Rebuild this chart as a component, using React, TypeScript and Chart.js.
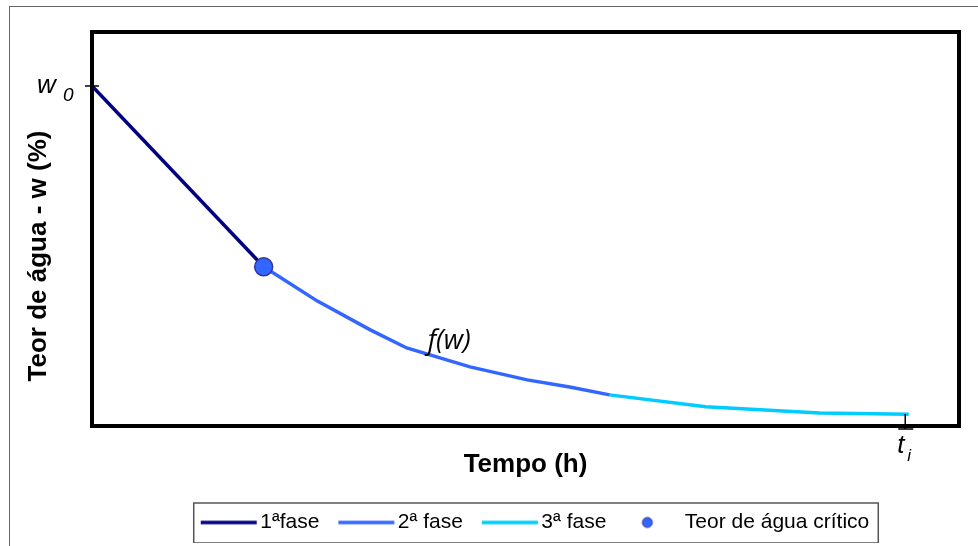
import React, { useEffect, useRef } from "react";
import { Chart, registerables } from "chart.js";

Chart.register(...registerables);

// ---- data ----
const phase1X = [0, 1.98];
const phase1Y = [86.3, 40.4];
const phase2X = [1.98, 2.6, 3.21, 3.63, 4.36, 5.02, 5.51, 5.97];
const phase2Y = [40.4, 31.7, 24.4, 19.8, 15.0, 11.7, 9.9, 7.9];
const phase3X = [5.97, 7.08, 8.39, 9.42];
const phase3Y = [7.9, 4.9, 3.3, 3.0];
const criticalX = [1.98];
const criticalY = [40.4];
const seriesLabels = ["1ªfase", "2ª fase", "3ª fase", "Teor de água crítico"];
const yTickValue = 86.3; // w0
const xTickValue = 9.38; // ti
const curveLabel = "f(w)";
const curveLabelAt = { x: 4.12, y: 21.4 };
const xTitle = "Tempo (h)";
const yTitle = "Teor de água - w (%)";

const C1 = "#000080";
const C2 = "#3366FF";
const C3 = "#00CCFF";
const FONT = '"Liberation Sans", Arial, sans-serif';

const pts = (xs: number[], ys: number[]) => xs.map((x, i) => ({ x, y: ys[i] }));

function lineImage(color: string) {
  const c = document.createElement("canvas");
  c.width = 84;
  c.height = 6;
  const g = c.getContext("2d")!;
  g.strokeStyle = color;
  g.lineWidth = 3.5;
  g.beginPath();
  g.moveTo(27, 3);
  g.lineTo(83, 3);
  g.stroke();
  return c;
}
function dotImage() {
  const c = document.createElement("canvas");
  c.width = 30;
  c.height = 14;
  const g = c.getContext("2d")!;
  g.fillStyle = C2;
  g.strokeStyle = "#333399";
  g.lineWidth = 1;
  g.beginPath();
  g.arc(22, 7, 5, 0, Math.PI * 2);
  g.fill();
  g.stroke();
  return c;
}

const decorPlugin = {
  id: "decor",
  afterDatasetsDraw(chart: any) {
    const { ctx, chartArea: a, scales } = chart;
    const xs = scales.x;
    const ys = scales.y;
    ctx.save();
    // plot border
    ctx.strokeStyle = "#000";
    ctx.lineWidth = 4;
    ctx.strokeRect(a.left, a.top, a.right - a.left, a.bottom - a.top);
    // y tick (w0)
    const ty = ys.getPixelForValue(yTickValue);
    ctx.lineWidth = 1.5;
    ctx.beginPath();
    ctx.moveTo(a.left - 7, ty);
    ctx.lineTo(a.left + 7, ty);
    ctx.stroke();
    // x tick (ti)
    const tx = xs.getPixelForValue(xTickValue);
    ctx.beginPath();
    ctx.moveTo(tx, a.bottom - 12);
    ctx.lineTo(tx, a.bottom + 3);
    ctx.moveTo(tx - 7, a.bottom + 3);
    ctx.lineTo(tx + 8, a.bottom + 3);
    ctx.stroke();
    // tick labels
    ctx.fillStyle = "#000";
    ctx.textAlign = "left";
    ctx.textBaseline = "alphabetic";
    ctx.font = `italic 26px ${FONT}`;
    ctx.fillText("w", a.left - 55, ty + 7);
    ctx.font = `italic 19px ${FONT}`;
    ctx.fillText("0", a.left - 29, ty + 15);
    ctx.font = `italic 26px ${FONT}`;
    ctx.fillText("t", tx - 8, a.bottom + 27);
    ctx.font = `italic 17px ${FONT}`;
    ctx.fillText("i", tx + 2, a.bottom + 35);
    // curve label
    ctx.font = `italic 27px "Open Sans", ${FONT}`;
    ctx.textAlign = "center";
    ctx.textBaseline = "middle";
    ctx.fillText(curveLabel, xs.getPixelForValue(curveLabelAt.x), ys.getPixelForValue(curveLabelAt.y));
    // y title
    ctx.save();
    ctx.translate(a.left - 53, (a.top + a.bottom) / 2 + 27);
    ctx.rotate(-Math.PI / 2);
    ctx.font = `bold 26px ${FONT}`;
    ctx.fillText(yTitle, 0, 0);
    ctx.restore();
    ctx.restore();
  },
  afterDraw(chart: any) {
    const lg = chart.legend;
    if (!lg || !lg.legendHitBoxes || !lg.legendHitBoxes.length) return;
    const hb = lg.legendHitBoxes;
    const first = hb[0];
    const last = hb[hb.length - 1];
    const cy = first.top + first.height / 2;
    const { ctx } = chart;
    ctx.save();
    ctx.strokeStyle = "#555";
    ctx.lineWidth = 1.5;
    const left = first.left + 12;
    ctx.strokeRect(left, cy - 19.5, last.left + last.width + 9 - left, 40);
    ctx.restore();
  },
};

export default function App() {
  const ref = useRef<HTMLCanvasElement>(null);
  useEffect(() => {
    if (!ref.current) return;
    const imgs = [lineImage(C1), lineImage(C2), lineImage(C3), dotImage()];
    const chart = new Chart(ref.current, {
      type: "line",
      data: {
        datasets: [
          {
            label: seriesLabels[0],
            data: pts(phase1X, phase1Y),
            borderColor: C1,
            borderWidth: 3.5,
            pointRadius: 0,
            tension: 0,
          },
          {
            label: seriesLabels[1],
            data: pts(phase2X, phase2Y),
            borderColor: C2,
            borderWidth: 3.5,
            pointRadius: 0,
            tension: 0,
          },
          {
            label: seriesLabels[2],
            data: pts(phase3X, phase3Y),
            borderColor: C3,
            borderWidth: 3.5,
            pointRadius: 0,
            tension: 0,
          },
          {
            label: seriesLabels[3],
            data: pts(criticalX, criticalY),
            showLine: false,
            pointRadius: 9,
            pointBackgroundColor: C2,
            pointBorderColor: "#333399",
            pointBorderWidth: 1.5,
            order: -1,
          },
        ],
      } as any,
      options: {
        responsive: false,
        animation: false,
        layout: { padding: { top: 25, right: 51, left: 0, bottom: 0 } },
        plugins: {
          tooltip: { enabled: false },
          legend: {
            position: "bottom",
            fullSize: false,
            labels: {
              usePointStyle: true,
              pointStyleWidth: 68,
              padding: 0,
              color: "#000",
              font: { family: FONT, size: 21 },
              generateLabels: (ch: any) =>
                ch.data.datasets.map((ds: any, i: number) => ({
                  text: ds.label,
                  datasetIndex: i,
                  hidden: false,
                  pointStyle: imgs[i],
                  fillStyle: "transparent",
                  strokeStyle: "transparent",
                  lineWidth: 0,
                  fontColor: "#000",
                })),
            },
          },
        },
        scales: {
          x: {
            type: "linear",
            min: 0,
            max: 10,
            grid: { display: false },
            border: { display: false },
            ticks: { display: false },
            title: {
              display: true,
              text: xTitle,
              color: "#000",
              font: { family: FONT, size: 26, weight: "bold" },
              padding: { top: 0, bottom: 32 },
            },
            afterFit: (s: any) => {
              s.height = 86;
            },
          },
          y: {
            type: "linear",
            min: 0,
            max: 100,
            grid: { display: false },
            border: { display: false },
            ticks: { display: false },
            afterFit: (s: any) => {
              s.width = 82;
            },
          },
        },
      } as any,
      plugins: [decorPlugin],
    });
    return () => chart.destroy();
  }, []);
  return (
    <div style={{ position: "fixed", inset: 0, overflow: "hidden", background: "#fff" }}>
      <div
        style={{
          position: "absolute",
          left: 9,
          top: 6,
          width: 1100,
          height: 600,
          border: "1px solid #666",
        }}
      >
        <canvas ref={ref} width={1000} height={536} style={{ display: "block" }} />
      </div>
    </div>
  );
}
